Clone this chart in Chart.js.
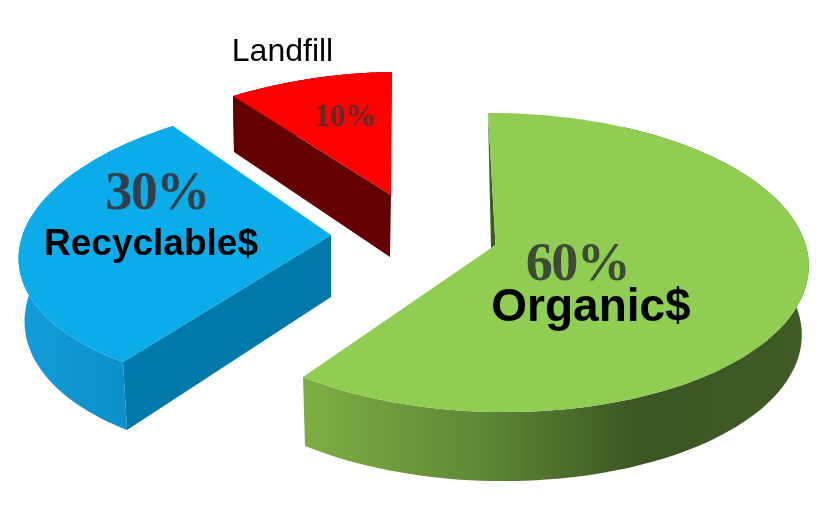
<!DOCTYPE html>
<html>
<head>
<meta charset="utf-8">
<style>
  html, body { margin: 0; background: #fff; }
  canvas { display: block; }
</style>
<script src="https://cdn.jsdelivr.net/npm/chart.js@4"></script>
</head>
<body>
<canvas id="chart" width="838" height="520"></canvas>
<script>
const categories = ["Organic$", "Recyclable$", "Landfill"];
const shares = [60, 30, 10];
const shareLabels = ["60%", "30%", "10%"];

// each slice is pulled apart and tilted on its own: anchors tie angle/radius on the
// flat pie to a spot on the page, wall says how the lower edge sits under the top one
const looks = [
  {
    top: "#8fce52",
    anchors: [[0, 0, 495.5, 245], [0, 1, 488, 113], [216, 1, 303, 377], [110, 1, 802, 297]],
    wall: { r: 7.4, p: -0.0178, a: 69, b: 0 },
    rimFrom: 12,
    rimStops: [[303, "#7fae44"], [480, "#5f8836"], [640, "#3c5523"], [810, "#3f5c25"]],
    sliver: { color: "#3f5a22", dx: -4.5, dy: 3 },
    share: { x: 577.5, y: 266, font: "bold 54px 'Liberation Serif'", color: "#3d4a35" },
    name: { x: 591, y: 308, font: "bold 46px 'Liberation Sans'", color: "#000" }
  },
  {
    top: "#0bacea",
    anchors: [[0, 0, 331, 235], [216, 1, 123, 362], [324, 1, 173, 126], [270, 1, 21, 240]],
    wall: { r: 6.37, p: -0.0192, a: 51, b: 0.047 },
    rimFrom: 0,
    rimStops: [[25, "#129cd8"], [127, "#0b90c8"]],
    cut: "#0079a8",
    share: { x: 157, y: 195, font: "bold 54px 'Liberation Serif'", color: "#333f48" },
    name: { x: 151, y: 245, font: "bold 37px 'Liberation Sans'", color: "#000" }
  },
  {
    top: "#ff0000",
    anchors: [[0, 0, 391, 195], [360, 1, 392, 72], [324, 1, 233, 96], [342, 1, 315, 78]],
    wall: { r: 3.95, p: -0.0127, a: 50.1, b: 0.0606 },
    rimFrom: 0,
    rimStops: [[233, "#650000"], [392, "#650000"]],
    cut: "#650000",
    share: { x: 345.5, y: 118, font: "bold 31px 'Liberation Serif'", color: "#5c2b2b" },
    name: { x: 282.5, y: 52, font: "32px 'Liberation Sans'", color: "#000" }
  }
];

// plain gaussian elimination, 8 unknowns is all we need
const solve = (m, v) => {
  const n = v.length;
  for (let i = 0; i < n; i++) {
    let best = i;
    for (let k = i + 1; k < n; k++) if (Math.abs(m[k][i]) > Math.abs(m[best][i])) best = k;
    [m[i], m[best]] = [m[best], m[i]];
    [v[i], v[best]] = [v[best], v[i]];
    for (let k = i + 1; k < n; k++) {
      const f = m[k][i] / m[i][i];
      for (let j = i; j < n; j++) m[k][j] -= f * m[i][j];
      v[k] -= f * v[i];
    }
  }
  const out = new Array(n).fill(0);
  for (let i = n - 1; i >= 0; i--) {
    let s = v[i];
    for (let j = i + 1; j < n; j++) s -= m[i][j] * out[j];
    out[i] = s / m[i][i];
  }
  return out;
};

// flat pie coordinates -> page, through the four anchors of a slice
const makeProjection = (anchors) => {
  const m = [], v = [];
  anchors.forEach(([deg, r, px, py]) => {
    const t = deg * Math.PI / 180;
    const u = r * Math.sin(t), w = -r * Math.cos(t);
    m.push([u, w, 1, 0, 0, 0, -u * px, -w * px]); v.push(px);
    m.push([0, 0, 0, u, w, 1, -u * py, -w * py]); v.push(py);
  });
  const h = solve(m, v);
  return (u, w) => {
    const d = h[6] * u + h[7] * w + 1;
    return [(h[0] * u + h[1] * w + h[2]) / d, (h[3] * u + h[4] * w + h[5]) / d];
  };
};

const polygon = (ctx, pts, fill) => {
  ctx.beginPath();
  pts.forEach(([x, y], i) => (i ? ctx.lineTo(x, y) : ctx.moveTo(x, y)));
  ctx.closePath();
  ctx.fillStyle = fill;
  ctx.fill();
};

const exploded3d = {
  id: "exploded3d",
  beforeDatasetsDraw(chart) {
    const ctx = chart.ctx;
    chart.getDatasetMeta(0).data.forEach((arc, i) => {
      const look = looks[i];
      const project = makeProjection(look.anchors);
      const rim = [];
      for (let s = 0; s <= 90; s++) {
        const a = arc.startAngle + (arc.endAngle - arc.startAngle) * s / 90;
        rim.push(project(Math.cos(a), Math.sin(a)));
      }
      const apex = project(0, 0);
      const below = ([x, y]) => [x + look.wall.r + look.wall.p * x, y + look.wall.a + look.wall.b * y];

      const x0 = look.rimStops[0][0], x1 = look.rimStops[look.rimStops.length - 1][0];
      const grad = ctx.createLinearGradient(x0, 0, x1, 0);
      look.rimStops.forEach(([x, c]) => grad.addColorStop((x - x0) / (x1 - x0), c));
      const outer = rim.slice(look.rimFrom);
      polygon(ctx, outer.concat(outer.map(below).reverse()), grad);

      if (look.cut) polygon(ctx, [apex, rim[0], below(rim[0]), below(apex)], look.cut);
      if (look.sliver) {
        polygon(ctx, [rim[0], apex, [apex[0] + look.sliver.dx, apex[1] + look.sliver.dy]], look.sliver.color);
      }
      polygon(ctx, [apex].concat(rim), look.top);
    });

    ctx.textAlign = "center";
    ctx.textBaseline = "middle";
    looks.forEach((look, i) => {
      ctx.font = look.share.font;
      ctx.fillStyle = look.share.color;
      ctx.letterSpacing = i < 2 ? "-1.5px" : "0px";
      ctx.fillText(shareLabels[i], look.share.x, look.share.y);
      ctx.letterSpacing = "0px";
      ctx.font = look.name.font;
      ctx.fillStyle = look.name.color;
      ctx.fillText(categories[i], look.name.x, look.name.y);
    });
    return false;
  }
};

new Chart(document.getElementById("chart"), {
  type: "pie",
  data: {
    labels: categories,
    datasets: [{ data: shares, backgroundColor: looks.map((l) => l.top), borderWidth: 0 }]
  },
  options: {
    responsive: false,
    animation: false,
    plugins: { legend: { display: false }, tooltip: { enabled: false } }
  },
  plugins: [exploded3d]
});
</script>
</body>
</html>
